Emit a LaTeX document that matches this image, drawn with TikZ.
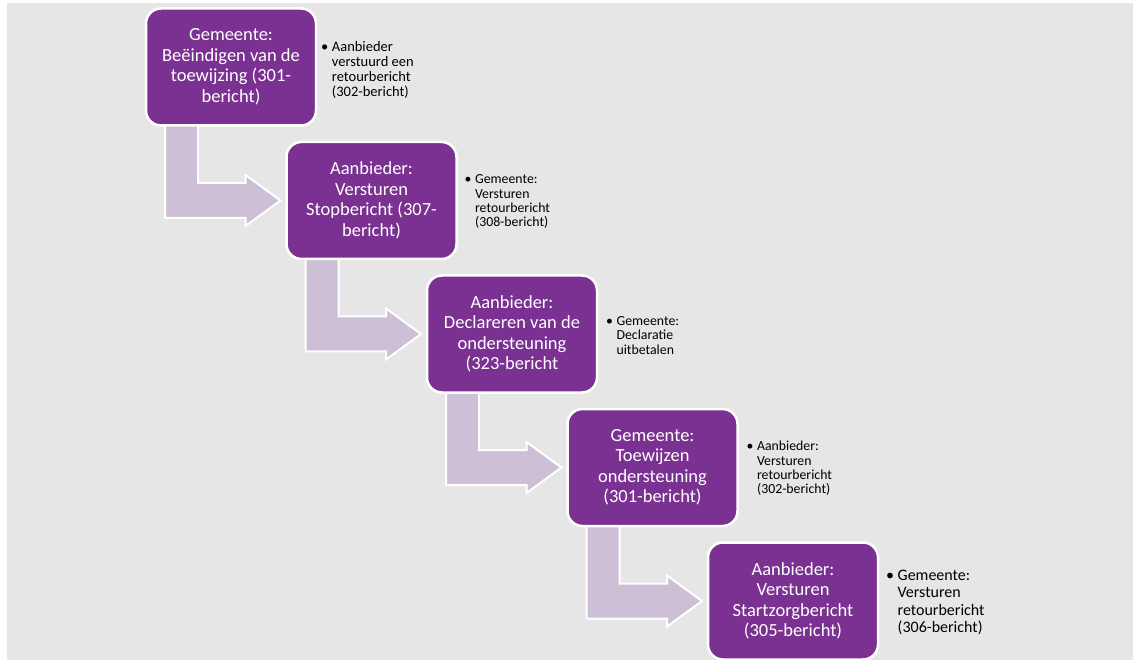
\documentclass[tikz,border=0pt]{standalone}
\usepackage{fontspec}
\setmainfont{Carlito}
\usetikzlibrary{calc,backgrounds}
\definecolor{boxpurple}{RGB}{122,49,145}
\definecolor{arrowfill}{RGB}{205,191,214}
\definecolor{bggray}{RGB}{230,230,230}
\tikzset{
  stepbox/.style={draw=white, line width=2.5pt, fill=boxpurple, rounded corners=15pt,
    minimum width=170pt, minimum height=117pt, outer sep=0pt, inner sep=2pt,
    text=white, align=center, font=\fontsize{18.5}{20.5}\selectfont},
  bentarrow/.style={draw=white, line width=2pt, fill=arrowfill, line join=miter},
  sidenote/.style={anchor=west, inner sep=0pt, text=black, font=\fontsize{13.8}{14.3}\selectfont},
  sidenotefirst/.style={sidenote, font=\fontsize{14.5}{15}\selectfont},
  sidenotebig/.style={sidenote, font=\fontsize{16}{17.5}\selectfont}
}
\newcommand{\bul}[1]{\begin{tabular}{@{}l@{\hspace{3.5pt}}l@{}}#1\end{tabular}}
\begin{document}
\begin{tikzpicture}[x=1pt,y=-1pt]
\useasboundingbox (0,0) rectangle (1133,660);
\node[stepbox] (b1) at (231,67) {Gemeente:\\Beëindigen van de\\toewijzing (301-\\bericht)};
\node[stepbox] (b2) at (371.5,200.5) {Aanbieder:\\Versturen\\Stopbericht (307-\\bericht)};
\node[stepbox] (b3) at (512,334) {Aanbieder:\\Declareren van de\\ondersteuning\\(323-bericht};
\node[stepbox] (b4) at (652.5,467.5) {Gemeente:\\Toewijzen\\ondersteuning\\(301-bericht)};
\node[stepbox] (b5) at (793,601) {Aanbieder:\\Versturen\\Startzorgbericht\\(305-bericht)};
\begin{scope}[on background layer]
\fill[bggray] (7,3) rectangle (1133,660);
\foreach \a/\b in {b1/b2,b2/b3,b3/b4,b4/b5}{
  \draw[bentarrow] let \p1=(\a.south west), \p2=(\b.west) in
    (\x1+19pt,\y1+6pt) -- (\x1+19pt,\y2-17.5pt) -- (\x2-41pt,\y2-17.5pt)
    -- (\x2-41pt,\y2-25.5pt) -- (\x2-6pt,\y2) -- (\x2-41pt,\y2+25.5pt)
    -- (\x2-41pt,\y2+17.5pt) -- (\x1+52pt,\y2+17.5pt) -- (\x1+52pt,\y1+6pt) -- cycle;
}
\end{scope}
\node[sidenotefirst] (s1) at ($(b1.east)+(5,4)$) {\bul{•&Aanbieder\\&verstuurd een\\&retourbericht\\&(302-bericht)}};
\node[sidenote] (s2) at ($(b2.east)+(8,2)$) {\bul{•&Gemeente:\\&Versturen\\&retourbericht\\&(308-bericht)}};
\node[sidenote] (s3) at ($(b3.east)+(9,3)$) {\bul{•&Gemeente:\\&Declaratie\\&uitbetalen}};
\node[sidenote] (s4) at ($(b4.east)+(9,2)$) {\bul{•&Aanbieder:\\&Versturen\\&retourbericht\\&(302-bericht)}};
\node[sidenotebig] (s5) at ($(b5.east)+(8,2)$) {\bul{•&Gemeente:\\&Versturen\\&retourbericht\\&(306-bericht)}};
\end{tikzpicture}
\end{document}
